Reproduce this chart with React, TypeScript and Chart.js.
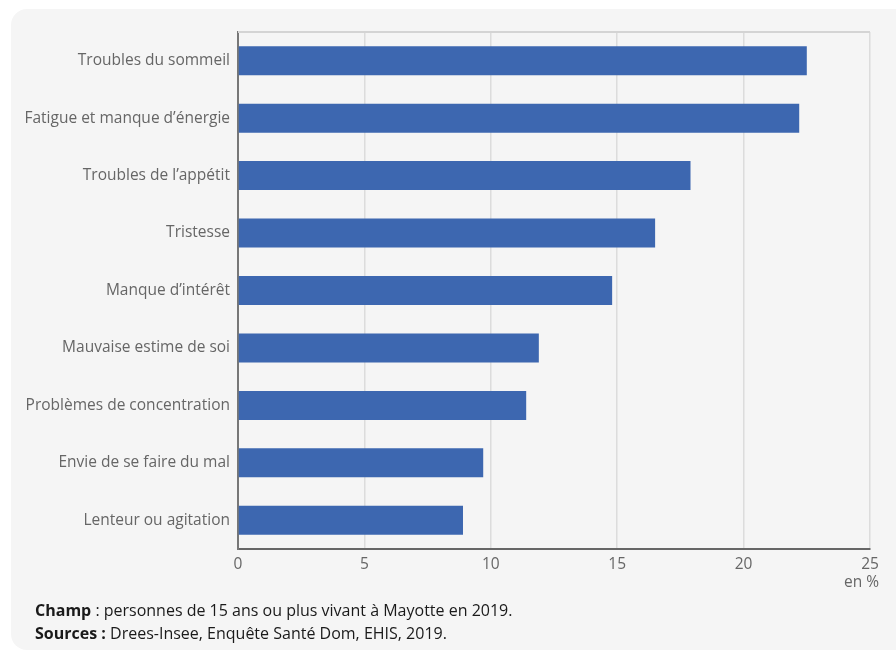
import React, { useEffect, useRef } from "react";
import { Chart, registerables } from "chart.js";

Chart.register(...registerables);

const categories = [
  "Troubles du sommeil",
  "Fatigue et manque d’énergie",
  "Troubles de l’appétit",
  "Tristesse",
  "Manque d’intérêt",
  "Mauvaise estime de soi",
  "Problèmes de concentration",
  "Envie de se faire du mal",
  "Lenteur ou agitation",
];
const values = [22.5, 22.2, 17.9, 16.5, 14.8, 11.9, 11.4, 9.7, 8.9];
const xTicks = [0, 5, 10, 15, 20, 25];
const unitLabel = "en %";

const FONT = "'Open Sans', 'Noto Sans', sans-serif";

const framePlugin = {
  id: "frame",
  beforeDatasetsDraw(chart: any) {
    const { ctx, chartArea } = chart;
    ctx.save();
    ctx.strokeStyle = "#d4d4d4";
    ctx.lineWidth = 2;
    ctx.beginPath();
    ctx.moveTo(chartArea.left, chartArea.top);
    ctx.lineTo(chartArea.right, chartArea.top);
    ctx.stroke();
    ctx.restore();
  },
  afterDraw(chart: any) {
    const { ctx } = chart;
    const xs = chart.scales.x;
    ctx.save();
    ctx.font = `15.5px ${FONT}`;
    ctx.fillStyle = "#666666";
    ctx.textAlign = "right";
    ctx.textBaseline = "middle";
    ctx.fillText(unitLabel, xs.getPixelForValue(xTicks[xTicks.length - 1]) + 9, xs.bottom - 17);
    ctx.restore();
  },
};

export default function App() {
  const ref = useRef<HTMLCanvasElement | null>(null);
  useEffect(() => {
    if (!ref.current) return;
    const chart = new Chart(ref.current, {
      type: "bar",
      data: {
        labels: categories,
        datasets: [
          {
            data: values,
            backgroundColor: "#3d67b0",
            barPercentage: 0.505,
            categoryPercentage: 1,
          },
        ],
      },
      options: {
        indexAxis: "y",
        animation: false,
        responsive: false,
        maintainAspectRatio: false,
        layout: { padding: { left: 0, right: 15, top: 23, bottom: 0 } },
        plugins: { legend: { display: false }, tooltip: { enabled: false } },
        scales: {
          x: {
            min: 0,
            max: 25,
            afterFit: (s: any) => {
              s.height = 51;
            },
            afterBuildTicks: (s: any) => {
              s.ticks = xTicks.map((v) => ({ value: v }));
            },
            ticks: {
              color: "#666666",
              font: { family: FONT, size: 15.5 },
              padding: 6,
              maxRotation: 0,
            },
            grid: { color: "#dcdcdc", lineWidth: 1.5, drawTicks: false },
            border: { color: "#666666", width: 2 },
          },
          y: {
            afterFit: (s: any) => {
              s.width = 227;
            },
            ticks: {
              color: "#666666",
              font: { family: FONT, size: 15.5 },
              padding: 8,
            },
            grid: { display: false, drawTicks: false },
            border: { color: "#777777", width: 2 },
          },
        },
      },
      plugins: [framePlugin],
    });
    return () => chart.destroy();
  }, []);

  return (
    <div
      style={{
        position: "absolute",
        left: 11,
        top: 9,
        width: 900,
        height: 641,
        background: "#f5f5f5",
        borderRadius: 16,
        fontFamily: FONT,
      }}
    >
      <canvas ref={ref} width={874} height={591} style={{ display: "block" }} />
      <div
        style={{
          position: "absolute",
          left: 24,
          top: 590,
          fontSize: 16,
          lineHeight: "23px",
          color: "#1a1a1a",
        }}
      >
        <div>
          <b>Champ</b> : personnes de 15 ans ou plus vivant à Mayotte en 2019.
        </div>
        <div>
          <b>Sources :</b> Drees-Insee, Enquête Santé Dom, EHIS, 2019.
        </div>
      </div>
    </div>
  );
}
